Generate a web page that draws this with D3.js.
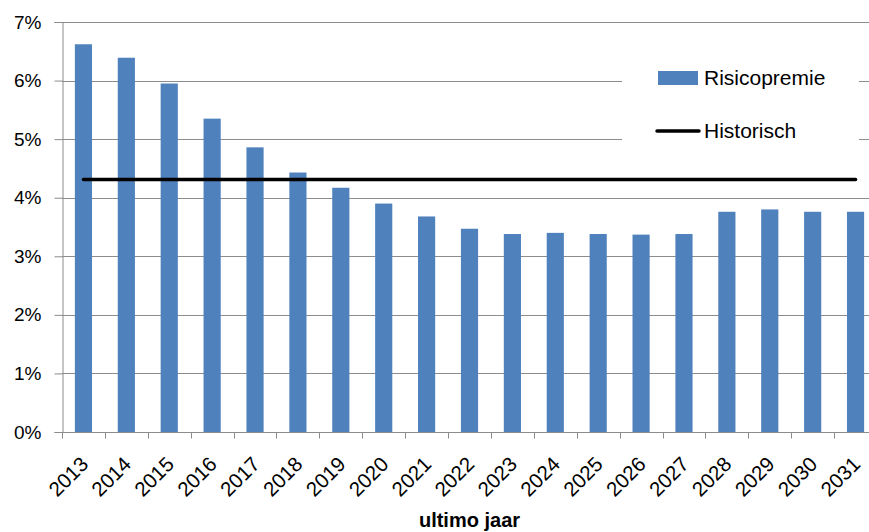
<!DOCTYPE html>
<html>
<head>
<meta charset="utf-8">
<script src="https://cdn.jsdelivr.net/npm/d3@7"></script>
<style>
    body { margin: 0; background: #fff; }
    text { font-family: "Liberation Sans", Arial, sans-serif; fill: #000; }
</style>
</head>
<body>
<div id="chart"></div>
<script>
// chart data
var years = ["2013", "2014", "2015", "2016", "2017", "2018", "2019", "2020", "2021", "2022",
    "2023", "2024", "2025", "2026", "2027", "2028", "2029", "2030", "2031"];
var risicopremie = [0.0662, 0.0639, 0.0595, 0.0535, 0.0486, 0.0443, 0.0417, 0.0390, 0.0368, 0.0347,
    0.0338, 0.0340, 0.0338, 0.0337, 0.0338, 0.0376, 0.0380, 0.0376, 0.0376];
var historisch = 0.0431;
var yTicks = [0, 0.01, 0.02, 0.03, 0.04, 0.05, 0.06, 0.07];
var seriesNames = ["Risicopremie", "Historisch"];
var axisTitle = "ultimo jaar";

var W = 869, H = 532;
var margin = { top: 22, right: -8, bottom: 100, left: 62 };
var barColor = "#4F81BD";
var gridColor = "#8c8c8c";

var svg = d3.select("#chart").append("svg")
    .attr("width", W)
    .attr("height", H);

var x = d3.scaleBand()
    .domain(years)
    .range([margin.left, W - margin.right])
    .paddingInner(0.6)
    .paddingOuter(0.3);

var y = d3.scaleLinear()
    .domain([0, 0.07])
    .range([H - margin.bottom, margin.top]);

// gridlines
svg.append("g")
    .selectAll("line")
    .data(yTicks.slice(1))
    .enter().append("line")
    .attr("x1", margin.left)
    .attr("x2", W - margin.right)
    .attr("y1", function(d) { return Math.round(y(d)) + 0.5; })
    .attr("y2", function(d) { return Math.round(y(d)) + 0.5; })
    .style("stroke", gridColor)
    .style("stroke-width", 1);

// legend background hides the gridlines behind it
svg.append("rect")
    .attr("x", 622)
    .attr("y", 48)
    .attr("width", 237)
    .attr("height", 118)
    .style("fill", "#fff");

// bars
svg.append("g")
    .selectAll("rect")
    .data(risicopremie)
    .enter().append("rect")
    .attr("x", function(d, i) { return x(years[i]); })
    .attr("y", function(d) { return y(d); })
    .attr("width", x.bandwidth())
    .attr("height", function(d) { return y(0) - y(d); })
    .style("fill", barColor);

// historic line
svg.append("line")
    .attr("x1", x(years[0]) + x.bandwidth() / 2)
    .attr("x2", x(years[years.length - 1]) + x.bandwidth() / 2)
    .attr("y1", y(historisch))
    .attr("y2", y(historisch))
    .style("stroke", "#000")
    .style("stroke-width", 3.5)
    .style("stroke-linecap", "round");

// y axis
var yAxis = svg.append("g")
    .attr("transform", "translate(" + (margin.left + 0.5) + ",0)")
    .call(d3.axisLeft(y)
        .tickValues(yTicks)
        .tickFormat(d3.format(".0%"))
        .tickSize(8)
        .tickPadding(13));
yAxis.selectAll("path, line").style("stroke", gridColor);
yAxis.selectAll("text")
    .style("font-size", "19px")
    .style("font-family", "'Liberation Sans', Arial, sans-serif");

// x axis
var x0 = y(0);
var xAxis = svg.append("g")
    .attr("transform", "translate(0," + (Math.round(x0) + 0.5) + ")");
xAxis.append("line")
    .attr("x1", margin.left)
    .attr("x2", W - margin.right)
    .style("stroke", gridColor);
xAxis.selectAll(".tick")
    .data(years.concat([""]))
    .enter().append("line")
    .attr("class", "tick")
    .attr("x1", function(d, i) { return Math.round(margin.left + i * x.step()) + 0.5; })
    .attr("x2", function(d, i) { return Math.round(margin.left + i * x.step()) + 0.5; })
    .attr("y2", 6)
    .style("stroke", gridColor);
xAxis.selectAll(".label")
    .data(years)
    .enter().append("text")
    .attr("class", "label")
    .attr("text-anchor", "end")
    .attr("transform", function(d) {
        return "translate(" + (x(d) + x.bandwidth() / 2 + 6) + ",33)rotate(-45)";
    })
    .style("font-size", "20.5px")
    .text(function(d) { return d; });

svg.append("text")
    .attr("x", (margin.left + W - margin.right) / 2)
    .attr("y", 527)
    .attr("text-anchor", "middle")
    .style("font-size", "20px")
    .style("font-weight", "bold")
    .text(axisTitle);

// legend
var legend = svg.append("g");
legend.append("rect")
    .attr("x", 658)
    .attr("y", 71)
    .attr("width", 40)
    .attr("height", 14)
    .style("fill", barColor);
legend.append("line")
    .attr("x1", 657)
    .attr("x2", 699)
    .attr("y1", 131)
    .attr("y2", 131)
    .style("stroke", "#000")
    .style("stroke-width", 3.5)
    .style("stroke-linecap", "round");
legend.selectAll("text")
    .data(seriesNames)
    .enter().append("text")
    .attr("x", 704)
    .attr("y", function(d, i) { return 78 + i * 53; })
    .attr("dy", "0.35em")
    .style("font-size", "21px")
    .text(function(d) { return d; });
</script>
</body>
</html>
